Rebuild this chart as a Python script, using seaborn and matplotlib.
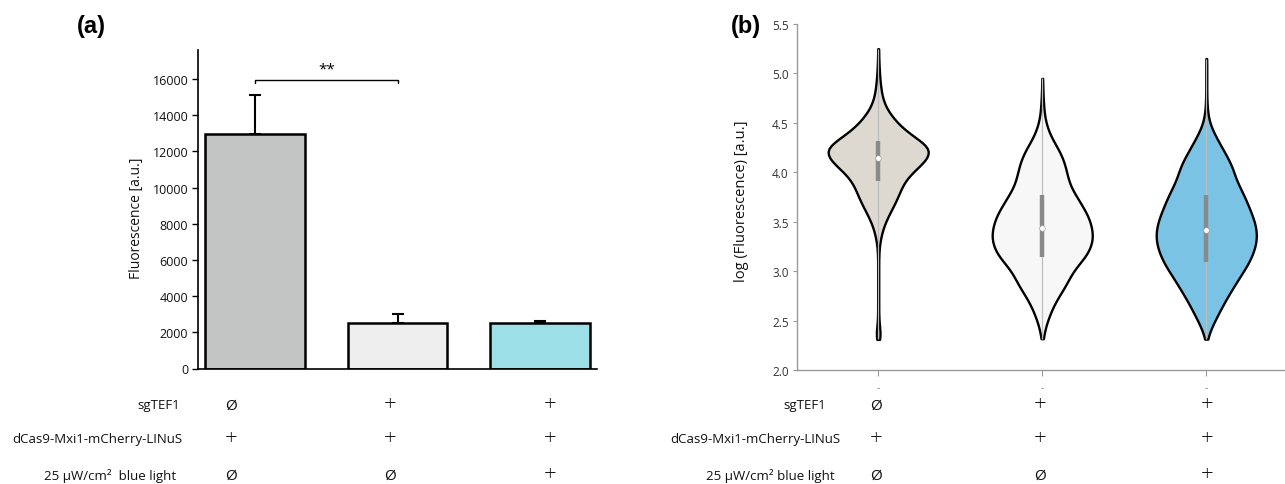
import numpy as np
import pandas as pd
import matplotlib
matplotlib.use("Agg")
import matplotlib.pyplot as plt
import seaborn as sns

# ---- panel (a): mean fluorescence per strain ----
conditions = ["ctrl", "sgTEF1 dark", "sgTEF1 light"]
mean_fluor = [12960, 2520, 2490]
err_fluor = [2160, 500, 140]
bar_colors = ["#c2c4c3", "#eeeeee", "#9ddfe6"]
a_yticks = [0, 2000, 4000, 6000, 8000, 10000, 12000, 14000, 16000]

# ---- panel (b): single-cell log fluorescence (histogram counts, 0.1 bins) ----
bin_centres = [2.35, 2.45, 2.55, 2.65, 2.75, 2.85, 2.95, 3.05, 3.15, 3.25,
               3.35, 3.45, 3.55, 3.65, 3.75, 3.85, 3.95, 4.05, 4.15, 4.25,
               4.35, 4.45, 4.55, 4.65, 4.75, 4.85, 4.95, 5.05, 5.15, 5.25]
counts_ctrl = [5, 2, 1, 1, 1, 1, 1, 1, 1, 2,
               5, 10, 18, 28, 37, 44, 55, 75, 95, 98,
               70, 45, 28, 15, 8, 5, 3, 2, 1, 1]
counts_dark = [3, 7, 14, 22, 33, 46, 55, 68, 86, 96,
               100, 97, 91, 80, 68, 56, 50, 46, 40, 30,
               18, 10, 5, 3, 2, 1, 1, 0, 0, 0]
counts_light = [4, 12, 22, 32, 43, 55, 67, 80, 90, 97,
                100, 98, 92, 84, 76, 66, 57, 52, 42, 31,
                20, 10, 4, 2, 1, 1, 1, 1, 1, 0]
violin_colors = ["#ddd9d1", "#f7f7f7", "#7bc3e5"]
b_yticks = [2.0, 2.5, 3.0, 3.5, 4.0, 4.5, 5.0, 5.5]

# condition table under both panels
row_labels_a = ["sgTEF1", "dCas9-Mxi1-mCherry-LINuS", "25 µW/cm²  blue light"]
row_labels_b = ["sgTEF1", "dCas9-Mxi1-mCherry-LINuS", "25 µW/cm² blue light"]
row_marks = [["Ø", "+", "+"], ["+", "+", "+"], ["Ø", "Ø", "+"]]


def expand(centres, counts, width=0.1):
    """Spread each histogram bin's count evenly across the bin."""
    vals = []
    for c, n in zip(centres, counts):
        if n > 0:
            vals.append(c + width * ((np.arange(n) + 0.5) / n - 0.5))
    return np.concatenate(vals)


groups = {"ctrl": counts_ctrl, "dark": counts_dark, "light": counts_light}
frames = []
for name, cnt in groups.items():
    v = expand(bin_centres, cnt)
    frames.append(pd.DataFrame({"group": name, "logf": v}))
cells = pd.concat(frames, ignore_index=True)

sns.set_theme(style="white")
plt.rcParams["font.family"] = ["Open Sans", "DejaVu Sans"]
plt.rcParams["text.color"] = "#111111"

W, H = 1285, 485
fig = plt.figure(figsize=(W / 100, H / 100), dpi=100)

# ================= panel (a) =================
ax_a = fig.add_axes([198 / W, 1 - 369.5 / H, (597 - 198) / W, (369.5 - 51) / H])
bar_df = pd.DataFrame({"cond": conditions, "mean": mean_fluor})
sns.barplot(data=bar_df, x="cond", y="mean", hue="cond", palette=bar_colors,
            saturation=1, width=0.70, edgecolor="black", linewidth=1.8,
            legend=False, ax=ax_a, errorbar=None)
ax_a.errorbar(x=range(len(conditions)), y=mean_fluor,
              yerr=[np.zeros(len(err_fluor)), err_fluor], fmt="none",
              ecolor="black", elinewidth=1.5, capsize=4, capthick=1.5, zorder=1)
ax_a.set_xlim(-0.40, 2.40)
ax_a.set_ylim(0, 17600)
ax_a.set_yticks(a_yticks)
ax_a.set_yticklabels([str(t) for t in a_yticks], fontsize=9, color="#111111")
ax_a.set_xticks([])
ax_a.set_xlabel("")
ax_a.set_ylabel("Fluorescence [a.u.]", fontsize=10, color="#111111")
ax_a.yaxis.set_label_coords(-0.135, 0.475)
for s in ["top", "right"]:
    ax_a.spines[s].set_visible(False)
for s in ["left", "bottom"]:
    ax_a.spines[s].set_color("black")
    ax_a.spines[s].set_linewidth(1.2)
ax_a.tick_params(axis="y", direction="out", length=4, width=1, color="black", pad=3, left=True)

# significance bracket between the first two bars
ax_a.plot([0, 0, 1, 1], [15780, 15950, 15950, 15780], color="black", lw=1.0, clip_on=False)
ax_a.text(0.5, 16150, "**", ha="center", va="bottom", fontsize=11, color="black")

# ================= panel (b) =================
ax_b = fig.add_axes([797 / W, 1 - 371 / H, (W - 797) / W, (371 - 25) / H])
sns.violinplot(data=cells, x="group", y="logf", hue="group", palette=violin_colors,
               saturation=1, legend=False, cut=0, inner=None, density_norm="width",
               width=0.61, bw_adjust=0.6, linewidth=1.7, linecolor="black", ax=ax_b)

for i, name in enumerate(groups):
    v = cells.loc[cells["group"] == name, "logf"].to_numpy()
    q1, med, q3 = np.percentile(v, [25, 50, 75])
    ax_b.vlines(i, v.min(), v.max(), color="#bdbdbd", lw=0.9, zorder=3)
    ax_b.vlines(i, q1, q3, color="#8a8a8a", lw=3.2, zorder=4)
    ax_b.scatter([i], [med], s=16, color="white", edgecolor="#9a9a9a",
                 linewidth=0.4, zorder=5)

ax_b.set_xlim(-0.495, 2.48)
ax_b.set_ylim(2.0, 5.5)
ax_b.set_yticks(b_yticks)
ax_b.set_yticklabels([f"{t:.1f}" for t in b_yticks], fontsize=8.5, color="#333333")
ax_b.set_xticks([0, 1, 2])
ax_b.set_xticklabels(["-", "-", "-"], fontsize=7, color="#777777")
ax_b.set_xlabel("")
ax_b.set_ylabel("log (Fluorescence) [a.u.]", fontsize=10.5, color="#111111")
ax_b.yaxis.set_label_coords(-0.098, 0.49)
for s in ["top", "right"]:
    ax_b.spines[s].set_visible(False)
for s in ["left", "bottom"]:
    ax_b.spines[s].set_color("#9a9a9a")
    ax_b.spines[s].set_linewidth(1.0)
ax_b.tick_params(axis="y", direction="out", length=3, width=0.8, color="#9a9a9a", pad=3, left=True)
ax_b.tick_params(axis="x", direction="out", length=4, width=0.8, color="#9a9a9a", pad=5, bottom=True)

# ================= panel letters =================
fig.text(91 / W, 1 - 27 / H, "(a)", fontsize=17, fontweight="bold",
         family="Liberation Sans", ha="center", va="center", color="black")
fig.text(745.5 / W, 1 - 27 / H, "(b)", fontsize=17, fontweight="bold",
         family="Liberation Sans", ha="center", va="center", color="black")

# ================= condition tables =================
row_y = [406, 440, 476]
cols_a = [231, 390, 550]
cols_b = [876, 1040, 1207]
label_right_a = [180, 182, 176]
label_right_b = [826, 840, 835]
mark_style = {"Ø": (11, "normal"), "+": (16, "light")}
for r in range(3):
    y = 1 - row_y[r] / H
    fig.text(label_right_a[r] / W, y, row_labels_a[r], ha="right", va="center",
             fontsize=9.5)
    fig.text(label_right_b[r] / W, y, row_labels_b[r], ha="right", va="center",
             fontsize=9.5)
    for c in range(3):
        m = row_marks[r][c]
        size, weight = mark_style[m]
        fig.text(cols_a[c] / W, y, m, ha="center", va="center",
                 fontsize=size, fontweight=weight)
        fig.text(cols_b[c] / W, y, m, ha="center", va="center",
                 fontsize=size, fontweight=weight)

fig.savefig("out.png", dpi=100)
